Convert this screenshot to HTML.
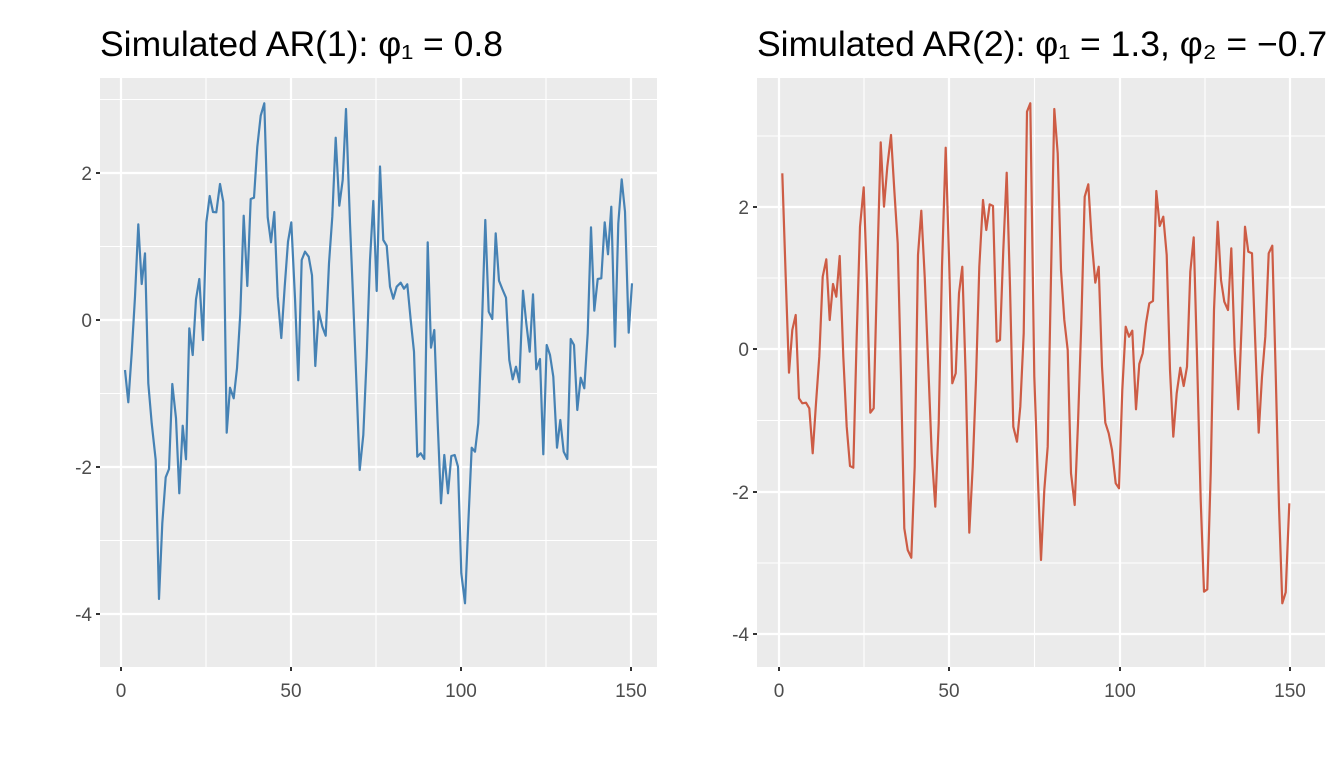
<!DOCTYPE html>
<html><head><meta charset="utf-8"><style>body{margin:0;background:#fff}svg{display:block}</style></head><body>
<svg width="1344" height="768" xmlns="http://www.w3.org/2000/svg" font-family="Liberation Sans, DejaVu Sans, sans-serif">
<rect width="1344" height="768" fill="#fff"/>
<!-- left panel -->
<rect x="100" y="78" width="557" height="589" fill="#ebebeb"/>
<g stroke="#fff" stroke-width="1.1">
<line x1="100" x2="657" y1="99.5" y2="99.5"/><line x1="100" x2="657" y1="246.5" y2="246.5"/><line x1="100" x2="657" y1="393.5" y2="393.5"/><line x1="100" x2="657" y1="540.5" y2="540.5"/>
<line y1="78" y2="667" x1="206" x2="206"/><line y1="78" y2="667" x1="376" x2="376"/><line y1="78" y2="667" x1="546" x2="546"/>
</g>
<g stroke="#fff" stroke-width="2.2">
<line x1="100" x2="657" y1="173" y2="173"/><line x1="100" x2="657" y1="320" y2="320"/><line x1="100" x2="657" y1="467" y2="467"/><line x1="100" x2="657" y1="614" y2="614"/>
<line y1="78" y2="667" x1="121" x2="121"/><line y1="78" y2="667" x1="291" x2="291"/><line y1="78" y2="667" x1="461" x2="461"/><line y1="78" y2="667" x1="631" x2="631"/>
</g>
<g stroke="#333" stroke-width="2">
<line x1="96" x2="100" y1="173" y2="173"/><line x1="96" x2="100" y1="320" y2="320"/><line x1="96" x2="100" y1="467" y2="467"/><line x1="96" x2="100" y1="614" y2="614"/>
<line x1="121" x2="121" y1="667" y2="671"/><line x1="291" x2="291" y1="667" y2="671"/><line x1="461" x2="461" y1="667" y2="671"/><line x1="631" x2="631" y1="667" y2="671"/>
</g>
<g fill="#4d4d4d" font-size="19" text-anchor="end">
<text x="92" y="180">2</text><text x="92" y="327">0</text><text x="92" y="474">-2</text><text x="92" y="621">-4</text>
</g>
<g fill="#4d4d4d" font-size="19" text-anchor="middle">
<text x="121" y="697">0</text><text x="291" y="697">50</text><text x="461" y="697">100</text><text x="631" y="697">150</text>
</g>
<text x="100" y="56" font-size="35.5" fill="#000">Simulated AR(1): φ₁ = 0.8</text>
<polyline fill="none" stroke="#4682b4" stroke-width="2.2" stroke-linejoin="round" points="125,370 128.3,402.3 131.7,353 135,296.7 138.3,224.3 141.7,284 145,253.3 148.3,383.3 151.7,423.3 155.7,460 159,599 162.3,523.3 165.7,477.3 169,469 172.3,384 176,418.3 179.3,493.3 182.7,425.7 186,459.3 189.3,328.3 192.7,355 196,299.3 199.3,279 203,340 206.3,222.7 209.7,196 213,212 216.3,212.3 220,184 223.3,202 226.7,432.7 230,387.7 233.7,398.3 237,368.3 240.3,313.3 243.7,215.7 247.3,286 250.7,199 254,197.7 257.3,146.7 260.7,115.7 264.3,103.3 267.7,217.3 271,242.3 274.3,212 277.7,296.7 281.3,338 284.7,286.7 288,241.7 291.3,222.3 295,298.3 298.3,380.3 301.7,260 305,251.7 308.7,256.7 312,275.3 315.3,366 318.7,311.3 322.3,326.7 325.7,335.7 329,263.3 332.3,216.7 335.7,137.7 339.3,205.7 342.7,180 346,109 350,223.3 353.3,303.3 356.7,390 359.7,470 363.3,435 366.7,356.7 370,260 373.3,201 376.7,291 380,166.5 383.3,240 386.7,245.7 390,286.7 393.3,298.7 396.7,286.7 400.7,282.7 404,288.7 407.3,284.3 410.7,320 414,351.7 417.3,456.7 420.7,453.3 424.3,459 427.7,242.3 431,347.7 434.3,330 437.7,423.3 441,503.3 444.3,455 448,493.3 451.3,456 454.7,455 458,466.7 461.3,573.3 465,603.3 468.3,523.3 471.7,447.7 475,451.7 478.3,423.3 482,323.3 485.3,220 488.7,311.7 492.3,319 495.7,233.3 499,280.7 502.3,289 506,297.7 509.3,360 512.7,379.3 516,366.7 519.3,382.3 523,290.7 526.3,323.3 529.7,351.7 533,294.3 536.3,369.3 540,359 543.3,454.3 546.7,345 550,355 553.3,376.7 557,447.7 560.3,420 563.7,451.7 567.3,459 570.7,339 574,345 577.3,410 580.7,377.7 584.3,388.3 587.7,333.3 591,227.3 594.3,310.7 597.7,279 601.3,278.3 604.7,222.3 608,254.3 611.3,206.7 615,346.7 618.3,223.3 621.7,179.3 625,211.7 628.7,332.7 632,283.3"/>

<!-- right panel -->
<rect x="757" y="78" width="568" height="589" fill="#ebebeb"/>
<g stroke="#fff" stroke-width="1.1">
<line x1="757" x2="1325" y1="136" y2="136"/><line x1="757" x2="1325" y1="278" y2="278"/><line x1="757" x2="1325" y1="420.5" y2="420.5"/><line x1="757" x2="1325" y1="563" y2="563"/>
<line y1="78" y2="667" x1="864" x2="864"/><line y1="78" y2="667" x1="1034.5" x2="1034.5"/><line y1="78" y2="667" x1="1205" x2="1205"/>
</g>
<g stroke="#fff" stroke-width="2.2">
<line x1="757" x2="1325" y1="207" y2="207"/><line x1="757" x2="1325" y1="349" y2="349"/><line x1="757" x2="1325" y1="492" y2="492"/><line x1="757" x2="1325" y1="634" y2="634"/>
<line y1="78" y2="667" x1="779" x2="779"/><line y1="78" y2="667" x1="949" x2="949"/><line y1="78" y2="667" x1="1120" x2="1120"/><line y1="78" y2="667" x1="1290" x2="1290"/>
</g>
<g stroke="#333" stroke-width="2">
<line x1="753" x2="757" y1="207" y2="207"/><line x1="753" x2="757" y1="349" y2="349"/><line x1="753" x2="757" y1="492" y2="492"/><line x1="753" x2="757" y1="634" y2="634"/>
<line x1="779" x2="779" y1="667" y2="671"/><line x1="949" x2="949" y1="667" y2="671"/><line x1="1120" x2="1120" y1="667" y2="671"/><line x1="1290" x2="1290" y1="667" y2="671"/>
</g>
<g fill="#4d4d4d" font-size="19" text-anchor="end">
<text x="749" y="214">2</text><text x="749" y="356">0</text><text x="749" y="499">-2</text><text x="749" y="641">-4</text>
</g>
<g fill="#4d4d4d" font-size="19" text-anchor="middle">
<text x="779" y="697">0</text><text x="949" y="697">50</text><text x="1120" y="697">100</text><text x="1290" y="697">150</text>
</g>
<text x="757" y="56" font-size="35.5" fill="#000">Simulated AR(2): φ₁ = 1.3, φ₂ = −0.7</text>
<polyline fill="none" stroke="#cd5c45" stroke-width="2.2" stroke-linejoin="round" points="782.3,173.3 785.7,276.7 789,372.7 792.3,330 795.7,315 799,398.3 802.3,403.3 806,402.7 809.3,408.3 812.7,453.3 816,403.3 819.3,356.7 822.7,276.7 826.3,259.3 829.7,320 833,284 836.3,296.7 839.7,256 843.3,356.7 846.7,426.7 850,466 853.3,467.7 856.7,336.7 860,226.7 863.7,187.3 867,283.3 870.3,412.7 873.7,408.3 877,276.7 880.7,142.3 884,206.7 887.3,166.7 891,135 894.3,190 897.7,243.3 901,376.7 904.3,528.3 907.7,550 911.3,557.7 914.7,466.7 918,255 921.3,210.7 924.7,276.7 928.3,366.7 931.7,453.3 935.3,506.7 938.7,423.3 942,266.7 945.7,147.7 949,256.7 952.3,383.3 955.7,373.3 959,293.3 962.3,266.7 965.7,376.7 969.3,532.7 972.7,466.7 976,380 979.3,266.7 983,200 986.3,230 989.7,204.3 993,206 996.7,341.7 1000,340 1003.3,250 1006.7,172.7 1010,286.7 1013.3,426.7 1017,441.7 1020.3,406.7 1023.7,333.3 1027,111.7 1030.3,103.3 1034.3,376.7 1037.7,473.3 1041,560 1044.3,490 1047.7,446.7 1051,276.7 1054.3,109 1057.7,153.3 1061,270 1064.3,320 1067.7,350 1071,473.3 1074.7,505 1078,423.3 1081.3,323.3 1084.7,196.7 1088.3,184.3 1091.7,240 1095.3,282.7 1098.7,266.7 1102,366.7 1105.3,422.7 1108.7,433.3 1112,450 1115.7,483.3 1119,488.3 1122.3,390 1125.7,326.7 1129,336.7 1132.3,330.7 1136,409.3 1139.3,364 1142.7,353.3 1146,323.3 1149.3,303.3 1153,301 1156.3,191 1159.7,226 1163.3,216.7 1166.7,255 1170,370 1173.3,436.7 1176.7,393.3 1180.3,367.7 1183.7,386 1187,366.7 1190.3,271.7 1193.7,237.3 1197,356.7 1200.7,500 1204,591.7 1207.3,589.3 1210.7,473.3 1214,310 1217.7,221.7 1221,280 1224.3,301.7 1228,310 1231.3,248.3 1234.7,350 1238.3,409.3 1241.7,323.3 1245,226.7 1248.3,251.7 1252,253.3 1255.3,343.3 1258.7,432.7 1262,376.7 1265.3,336.7 1268.7,253.3 1272.3,245.7 1275.7,373.3 1279,506.7 1282.3,603.3 1285.7,592.3 1289.3,503.3"/>
</svg>
</body></html>
